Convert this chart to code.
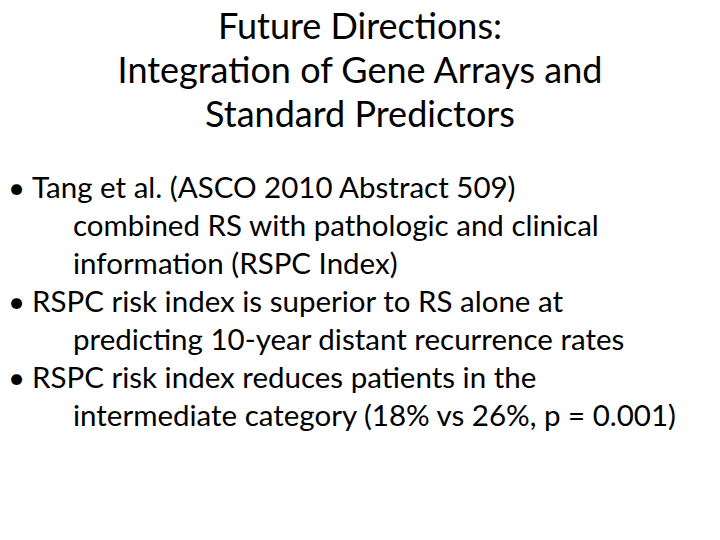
<!DOCTYPE html>
<html lang="en">
<head>
<meta charset="UTF-8">
<title>Future Directions</title>
<script src="https://cdn.jsdelivr.net/npm/chart.js"></script>
<style>
  body { margin: 0; width: 720px; height: 540px; background: #fff; font-family: Lato, "Open Sans", sans-serif; color: #000; overflow: hidden; }
  #title { position: absolute; top: 3px; left: 0; width: 720px; text-align: center; font-size: 36px; line-height: 44px; }
  #bullets { position: absolute; top: 168px; left: 0; width: 720px; margin: 0; padding: 0; list-style: none; font-size: 29.5px; line-height: 38px; }
  #bullets li { position: relative; padding-left: 73px; text-indent: -41px; }
  #bullets li::before { content: "•"; position: absolute; left: 8px; text-indent: 0; }
</style>
</head>
<body>
<div id="title"></div>
<ul id="bullets"></ul>
<script>
  // slide text
  const titleLines = ['Future Directions:', 'Integration of Gene Arrays and', 'Standard Predictors'];
  const bulletLines = [
    ['Tang et al. (ASCO 2010 Abstract 509)', 'combined RS with pathologic and clinical', 'information (RSPC Index)'],
    ['RSPC risk index is superior to RS alone at', 'predicting 10-year distant recurrence rates'],
    ['RSPC risk index reduces patients in the', 'intermediate category (18% vs 26%, p = 0.001)']
  ];

  document.getElementById('title').innerHTML = titleLines.join('<br>');
  const ul = document.getElementById('bullets');
  bulletLines.forEach(lines => {
    const li = document.createElement('li');
    li.innerHTML = lines.join('<br>');
    ul.appendChild(li);
  });
</script>
</body>
</html>
